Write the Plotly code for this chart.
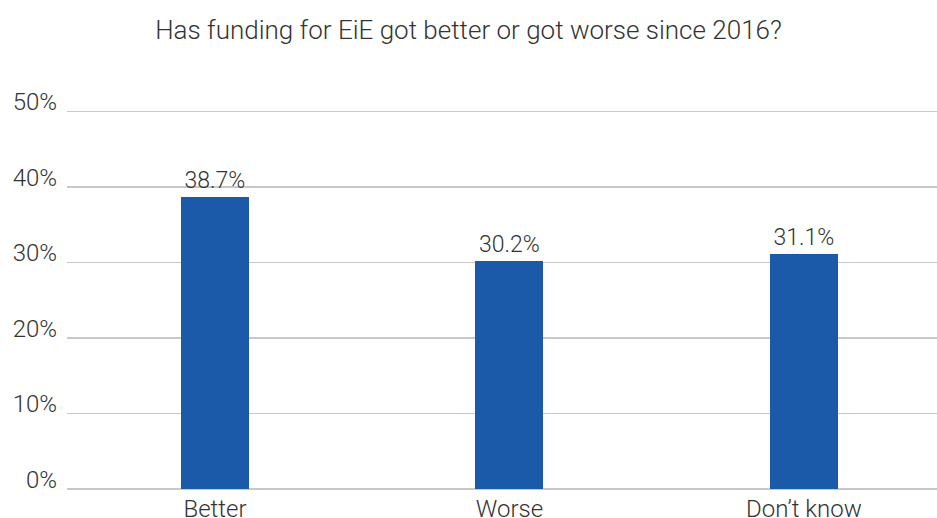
import plotly.graph_objects as go

categories = ["Better", "Worse", "Don\u2019t know"]
values = [38.7, 30.2, 31.1]
value_labels = ["38.7%", "30.2%", "31.1%"]
y_ticks = [0, 10, 20, 30, 40, 50]
y_tick_labels = ["0%", "10%", "20%", "30%", "40%", "50%"]

FONT = "Roboto, 'Liberation Sans', Arial, sans-serif"
TXT = "#333333"

fig = go.Figure(go.Bar(
    x=[0, 1, 2],
    y=values,
    width=0.231,
    marker=dict(color="#1A5AA9", line=dict(width=0)),
    text=value_labels,
    textposition="outside",
    constraintext="none",
    textfont=dict(family=FONT, size=23, color=TXT, weight=300),
    cliponaxis=False,
    hoverinfo="skip",
))

fig.update_layout(
    width=937, height=518,
    margin=dict(l=67, r=0, t=109.5, b=29, autoexpand=False),
    paper_bgcolor="white", plot_bgcolor="white",
    showlegend=False,
    title=dict(text="Has funding for EiE got better or got worse since 2016?",
               x=0.5, xref="container", xanchor="center",
               y=1 - 30/518, yref="container", yanchor="middle",
               font=dict(family=FONT, size=26, color=TXT, weight=300)),
    bargap=0,
)
fig.update_xaxes(
    range=[-0.5025, 2.452],
    tickvals=[0, 1, 2], ticktext=categories,
    showgrid=False, zeroline=False, showline=False, ticks="",
    tickfont=dict(family=FONT, size=24, color=TXT, weight=300),
    ticklabelstandoff=3,
    automargin=False,
    fixedrange=True,
)
fig.update_yaxes(
    range=[0, 50.2],
    tickvals=y_ticks, ticktext=y_tick_labels,
    ticklabelposition="outside top",
    ticklabelshift=7,
    showgrid=True, gridcolor="#C8C8C8", gridwidth=1.5,
    zeroline=True, zerolinecolor="#C8C8C8", zerolinewidth=1.5,
    showline=False, ticks="", ticklabelstandoff=9,
    tickfont=dict(family=FONT, size=24, color=TXT, weight=300),
    automargin=False,
    fixedrange=True,
)

fig.write_html("out.html", config={"displayModeBar": False, "staticPlot": True},
               post_script="document.body.style.margin='0';document.body.style.overflow='hidden';")
